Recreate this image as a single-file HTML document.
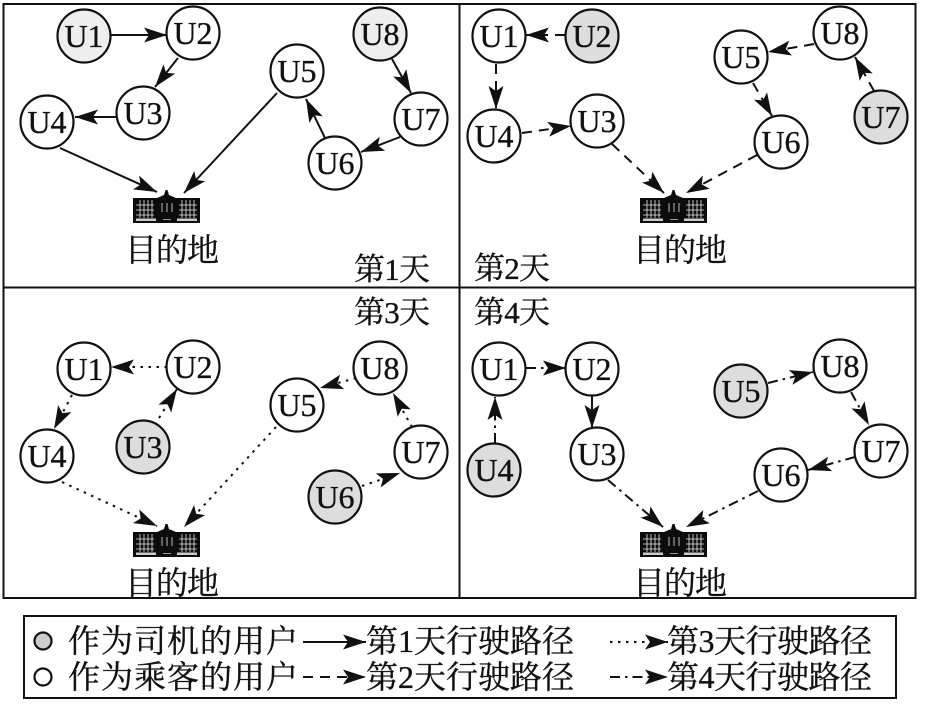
<!DOCTYPE html>
<html><head><meta charset="utf-8">
<style>
html,body{margin:0;padding:0;background:#fff}
svg{display:block}
.u{font-family:"Liberation Serif",serif;font-size:32px;text-anchor:middle;fill:#111;stroke:#111;stroke-width:.35}
.c{font-family:"Liberation Serif","Noto Serif CJK SC",serif;fill:#111;stroke:#111;stroke-width:.35}
circle{stroke:#111;stroke-width:2.200}
line{stroke:#111;stroke-width:2;marker-end:url(#a)}
.d1{}
.d2{stroke-dasharray:10 7}
.d3{stroke-dasharray:2.500 5.500}
.d4{stroke-dasharray:10 5 2.500 5}
</style></head><body>
<svg width="927" height="704" viewBox="0 0 927 704" xmlns="http://www.w3.org/2000/svg">
<defs>
<marker id="a" markerUnits="userSpaceOnUse" markerWidth="28" markerHeight="18" refX="24" refY="9" orient="auto">
<path d="M24,9 L1,1.500 L6,9 L1,16.500 Z" fill="#111"/>
</marker>
<g id="b">
<path d="M0,8 H24 L31,5 L32.500,0 H34.500 L36,5 L43,8 H67 V33 H0 Z" fill="#0c0c0c"/>
<g stroke="#fff" stroke-width=".8" fill="none" opacity=".9">
<path d="M3,15 H21 M3,20 H21 M3,25 H21 M7,10 V28 M11,10 V28 M15,10 V28 M19,10 V28"/>
<path d="M46,15 H64 M46,20 H64 M46,25 H64 M49,10 V28 M53,10 V28 M57,10 V28 M61,10 V28"/>
<path d="M29,13 V22 M34,13 V22 M39,13 V22"/>
</g>
<rect x="3" y="28.500" width="20" height="2.500" fill="#ccc"/>
<rect x="44" y="28.500" width="20" height="2.500" fill="#ccc"/>
<rect x="30" y="29" width="8" height="1" fill="#999"/>
</g>
</defs>
<rect width="927" height="704" fill="#fff"/>
<rect x="3.5" y="4" width="912" height="594" fill="none" stroke="#111" stroke-width="2"/>
<path d="M459.5,4 V598 M3,287.500 H916" stroke="#111" stroke-width="2" fill="none"/>

<!-- Day 1 -->
<g class="d1">
<line x1="111" y1="35" x2="167" y2="35"/>
<line x1="178" y1="58" x2="155" y2="87"/>
<line x1="117" y1="117" x2="75" y2="117"/>
<line x1="60" y1="148" x2="157" y2="192"/>
<line x1="277" y1="93" x2="184" y2="193"/>
<line x1="325" y1="138" x2="306" y2="99"/>
<line x1="400" y1="137" x2="361" y2="152"/>
<line x1="392" y1="59" x2="411" y2="93"/>
</g>
<g fill="#fff">
<circle cx="84" cy="36" r="26.500" fill="#eee"/><circle cx="193" cy="33" r="26.500"/><circle cx="143" cy="113" r="26.500"/><circle cx="47" cy="122" r="26.500"/>
<circle cx="297" cy="71" r="26.500"/><circle cx="335" cy="163" r="26.500"/><circle cx="421" cy="119" r="26.500"/><circle cx="380" cy="34" r="26.500" fill="#eee"/>
</g>
<g class="u">
<text x="84" y="47">U1</text><text x="193" y="44">U2</text><text x="143" y="124">U3</text><text x="47" y="133">U4</text>
<text x="297" y="82">U5</text><text x="335" y="174">U6</text><text x="421" y="130">U7</text><text x="380" y="45">U8</text>
</g>
<use href="#b" x="133" y="190"/>
<text class="c" x="125" y="261" font-size="32" textLength="94">目的地</text>
<text class="c" x="354" y="280" font-size="31" textLength="76">第1天</text>

<!-- Day 2 -->
<g>
<line class="d2" x1="565" y1="35" x2="526" y2="35"/>
<line class="d2" x1="496" y1="64" x2="496" y2="109"/>
<line class="d2" x1="522" y1="133" x2="571" y2="126"/>
<line class="d2" x1="612" y1="144" x2="664" y2="193"/>
<line class="d2" x1="757" y1="155" x2="686" y2="193"/>
<line class="d2" x1="814" y1="44" x2="768" y2="52"/>
<line class="d2" x1="753" y1="83" x2="772" y2="116"/>
<line class="d2" x1="874" y1="91" x2="855" y2="57"/>
</g>
<g fill="#fff">
<circle cx="499" cy="36" r="26.500"/><circle cx="592" cy="36" r="26.500" fill="#ddd"/><circle cx="597" cy="121" r="26.500"/><circle cx="494" cy="136" r="26.500"/>
<circle cx="741" cy="57" r="26.500"/><circle cx="781" cy="142" r="26.500"/><circle cx="881" cy="117" r="26.500" fill="#ddd"/><circle cx="840" cy="33" r="26.500"/>
</g>
<g class="u">
<text x="499" y="47">U1</text><text x="592" y="47">U2</text><text x="597" y="132">U3</text><text x="494" y="147">U4</text>
<text x="741" y="68">U5</text><text x="781" y="153">U6</text><text x="881" y="128">U7</text><text x="840" y="44">U8</text>
</g>
<use href="#b" x="640" y="190"/>
<text class="c" x="633" y="261" font-size="32" textLength="94">目的地</text>
<text class="c" x="474" y="279" font-size="31" textLength="76">第2天</text>

<!-- Day 3 -->
<g>
<line class="d3" x1="167" y1="367" x2="111" y2="367"/>
<line class="d3" x1="72" y1="395" x2="54" y2="429"/>
<line class="d3" x1="159" y1="418" x2="177" y2="389"/>
<line class="d3" x1="62" y1="482" x2="157" y2="526"/>
<line class="d3" x1="276" y1="427" x2="184" y2="527"/>
<line class="d3" x1="362" y1="486" x2="400" y2="473"/>
<line class="d3" x1="412" y1="427" x2="393" y2="393"/>
<line class="d3" x1="356" y1="378" x2="320" y2="388"/>
</g>
<g fill="#fff">
<circle cx="84" cy="369" r="26.500"/><circle cx="193" cy="367" r="26.500"/><circle cx="143" cy="447" r="26.500" fill="#ddd"/><circle cx="47" cy="456" r="26.500"/>
<circle cx="297" cy="405" r="26.500"/><circle cx="335" cy="497" r="26.500" fill="#ddd"/><circle cx="421" cy="452" r="26.500"/><circle cx="380" cy="368" r="26.500"/>
</g>
<g class="u">
<text x="84" y="380">U1</text><text x="193" y="378">U2</text><text x="143" y="458">U3</text><text x="47" y="467">U4</text>
<text x="297" y="416">U5</text><text x="335" y="508">U6</text><text x="421" y="463">U7</text><text x="380" y="379">U8</text>
</g>
<use href="#b" x="133" y="524"/>
<text class="c" x="125" y="594" font-size="32" textLength="94">目的地</text>
<text class="c" x="354" y="323" font-size="31" textLength="76">第3天</text>

<!-- Day 4 -->
<g>
<line class="d4" x1="526" y1="368" x2="566" y2="368"/>
<line x1="592" y1="396" x2="592" y2="428"/>
<line class="d4" x1="495" y1="443" x2="495" y2="397"/>
<line class="d4" x1="608" y1="480" x2="663" y2="527"/>
<line class="d4" x1="758" y1="491" x2="686" y2="527"/>
<line class="d4" x1="855" y1="457" x2="808" y2="470"/>
<line class="d4" x1="768" y1="383" x2="813" y2="372"/>
<line class="d4" x1="851" y1="392" x2="869" y2="425"/>
</g>
<g fill="#fff">
<circle cx="499" cy="369" r="26.500"/><circle cx="592" cy="369" r="26.500"/><circle cx="597" cy="454" r="26.500"/><circle cx="494" cy="470" r="26.500" fill="#ddd"/>
<circle cx="741" cy="391" r="26.500" fill="#ddd"/><circle cx="781" cy="475" r="26.500"/><circle cx="881" cy="451" r="26.500"/><circle cx="840" cy="366" r="26.500"/>
</g>
<g class="u">
<text x="499" y="380">U1</text><text x="592" y="380">U2</text><text x="597" y="465">U3</text><text x="494" y="481">U4</text>
<text x="741" y="402">U5</text><text x="781" y="486">U6</text><text x="881" y="462">U7</text><text x="840" y="377">U8</text>
</g>
<use href="#b" x="640" y="524"/>
<text class="c" x="633" y="594" font-size="32" textLength="94">目的地</text>
<text class="c" x="474" y="323" font-size="31" textLength="76">第4天</text>

<!-- Legend -->
<rect x="24" y="616" width="872" height="82" fill="#fff" stroke="#111" stroke-width="2"/>
<circle cx="43" cy="641" r="8.500" fill="#ccc"/>
<circle cx="43" cy="677" r="8.500" fill="#fff"/>
<text class="c" x="68" y="652" font-size="32" textLength="230">作为司机的用户</text>
<text class="c" x="68" y="688" font-size="32" textLength="230">作为乘客的用户</text>
<line x1="303" y1="642" x2="366" y2="642"/>
<line class="d2" x1="303" y1="677" x2="366" y2="677"/>
<line class="d3" x1="610" y1="642" x2="668" y2="642"/>
<line class="d4" x1="610" y1="677" x2="668" y2="677"/>
<text class="c" x="366" y="652" font-size="32" textLength="208">第1天行驶路径</text>
<text class="c" x="366" y="688" font-size="32" textLength="208">第2天行驶路径</text>
<text class="c" x="667" y="652" font-size="32" textLength="205">第3天行驶路径</text>
<text class="c" x="667" y="688" font-size="32" textLength="205">第4天行驶路径</text>
</svg>
</body></html>
